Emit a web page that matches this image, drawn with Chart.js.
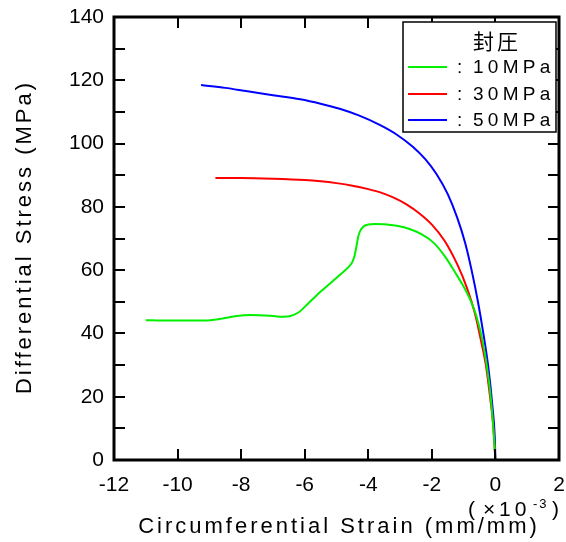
<!DOCTYPE html>
<html>
<head>
<meta charset="utf-8">
<script src="https://cdn.jsdelivr.net/npm/chart.js@4/dist/chart.umd.min.js"></script>
<style>
  html, body { margin: 0; padding: 0; background: #fff; }
  #wrap { width: 566px; height: 542px; }
</style>
</head>
<body>
<div id="wrap"><canvas id="myChart" width="566" height="542"></canvas></div>
<script>
// tick values
const xTicks = [-12, -10, -8, -6, -4, -2, 0, 2];
const yTicks = [0, 20, 40, 60, 80, 100, 120, 140];
const yMinor = [10, 30, 50, 70, 90, 110, 130];

// confining pressure 10 MPa
const strain10 = [-11.0, -10.5, -10.0, -9.5, -8.97, -8.64, -8.13, -7.72, -7.09, -6.68, -6.45, -6.2, -5.9, -5.62, -5.2, -4.78, -4.6, -4.5, -4.43, -4.37, -4.32, -4.25, -4.15, -4.0, -3.8, -3.5, -3.1, -2.7, -2.3, -1.95, -1.6, -1.22, -1.0, -0.8, -0.6, -0.4, -0.2, -0.08, 0.0];
const stress10 = [44.2, 44.1, 44.1, 44.1, 44.2, 44.6, 45.5, 45.8, 45.6, 45.3, 45.5, 46.6, 49.4, 52.1, 55.8, 59.5, 61.2, 62.6, 64.6, 67.6, 70.5, 72.5, 73.8, 74.4, 74.6, 74.5, 74.0, 73.0, 71.2, 68.7, 64.5, 58.5, 54.8, 50.8, 45.5, 37.5, 24.5, 12.0, 0];

// confining pressure 30 MPa
const strain30 = [-8.81, -8.0, -7.0, -6.0, -5.5, -5.0, -4.5, -4.0, -3.6, -3.2, -2.8, -2.4, -2.0, -1.6, -1.2, -0.9, -0.65, -0.45, -0.3, -0.17, -0.08, 0.0];
const stress30 = [89.1, 89.1, 88.9, 88.5, 88.1, 87.5, 86.7, 85.6, 84.5, 82.9, 80.8, 78.0, 74.4, 69.3, 61.8, 54.5, 46.5, 37.5, 30.0, 20.0, 12.0, 0];

// confining pressure 50 MPa
const strain50 = [-9.26, -8.5, -7.8, -7.0, -6.14, -5.5, -4.9, -4.3, -3.64, -3.1, -2.6, -2.2, -1.85, -1.5, -1.2, -0.95, -0.75, -0.55, -0.38, -0.22, -0.1, -0.02, 0.0];
const stress50 = [118.5, 117.6, 116.5, 115.3, 114.0, 112.6, 111.0, 108.9, 105.9, 102.8, 99.0, 95.0, 90.3, 84.0, 76.5, 68.5, 60.0, 50.0, 40.0, 29.0, 17.5, 7.0, 0];

const seriesLabels = ['10MPa', '30MPa', '50MPa'];
const seriesColors = ['rgb(0,240,0)', 'rgb(255,0,0)', 'rgb(0,0,255)'];

const toPoints = (xs, ys) => xs.map((v, i) => ({ x: v, y: ys[i] }));

const FONT = '"Liberation Sans", Arial, sans-serif';

// keep the plot box fixed regardless of tick label size
const noPad = s => { s.paddingTop = 0; s.paddingBottom = 0; s.paddingLeft = 0; s.paddingRight = 0; };

const framePlugin = {
  id: 'frame',
  beforeDraw(chart) {
    chart.ctx.letterSpacing = '0px';
  },
  afterDraw(chart) {
    const { ctx, chartArea: a, scales: { x, y } } = chart;
    ctx.save();
    ctx.strokeStyle = '#000';
    ctx.lineCap = 'butt';
    const seg = (x1, y1, x2, y2) => { ctx.beginPath(); ctx.moveTo(x1, y1); ctx.lineTo(x2, y2); ctx.stroke(); };

    // inward ticks on all four sides
    ctx.lineWidth = 2;
    xTicks.forEach(v => {
      const px = Math.round(x.getPixelForValue(v));
      seg(px, a.bottom, px, a.bottom - 11);
      seg(px, a.top, px, a.top + 11);
    });
    yTicks.concat(yMinor).forEach(v => {
      const py = Math.round(y.getPixelForValue(v));
      seg(a.left, py, a.left + 11, py);
      seg(a.right, py, a.right - 11, py);
    });

    // frame
    ctx.lineWidth = 3;
    ctx.strokeRect(a.left, a.top, a.right - a.left, a.bottom - a.top);

    // axis titles
    ctx.fillStyle = '#000';
    ctx.font = '22px ' + FONT;
    ctx.textAlign = 'center';
    ctx.textBaseline = 'middle';
    ctx.letterSpacing = '3px';
    ctx.fillText('Circumferential Strain (mm/mm)', 339, 527);

    ctx.save();
    ctx.translate(25, 237);
    ctx.rotate(-Math.PI / 2);
    ctx.fillText('Differential Stress (MPa)', 0, 0);
    ctx.restore();

    // scale factor note
    ctx.textAlign = 'left';
    ctx.textBaseline = 'alphabetic';
    ctx.letterSpacing = '4px';
    ctx.font = '21px ' + FONT;
    ctx.fillText('(', 468, 516);
    ctx.fillText('\u00d7', 483, 516);
    ctx.fillText('10', 499, 516);
    ctx.font = '13px ' + FONT;
    ctx.letterSpacing = '2px';
    ctx.fillText('-3', 533, 508);
    ctx.font = '21px ' + FONT;
    ctx.fillText(')', 552, 516);

    // legend box
    const lx = 403, ly = 22, lw = 153, lh = 110;
    ctx.fillStyle = '#fff';
    ctx.fillRect(lx, ly, lw, lh);
    ctx.lineWidth = 1.5;
    ctx.strokeRect(lx, ly, lw, lh);
    ctx.fillStyle = '#000';
    ctx.font = '21px "Noto Sans CJK JP", sans-serif';
    ctx.textAlign = 'center';
    ctx.textBaseline = 'middle';
    ctx.letterSpacing = '3px';
    ctx.fillText('封圧', 497, 41);

    const rows = [67, 94, 120];
    ctx.font = '19px ' + FONT;
    ctx.textAlign = 'left';
    ctx.lineWidth = 2;
    seriesLabels.forEach((lab, i) => {
      ctx.strokeStyle = seriesColors[i];
      seg(408, rows[i], 447, rows[i]);
      ctx.fillStyle = '#000';
      ctx.letterSpacing = '0px';
      ctx.fillText(':', 457, rows[i] + 1);
      ctx.letterSpacing = '4.3px';
      ctx.fillText(lab, 473, rows[i] + 1);
    });
    ctx.restore();
  }
};

const ctx = document.getElementById('myChart').getContext('2d');

const myChart = new Chart(ctx, {
  type: 'scatter',
  data: {
    datasets: seriesLabels.map((lab, i) => ({
      label: lab,
      data: toPoints([strain10, strain30, strain50][i], [stress10, stress30, stress50][i]),
      showLine: true,
      borderColor: seriesColors[i],
      backgroundColor: seriesColors[i],
      borderWidth: 2,
      pointRadius: 0,
      cubicInterpolationMode: 'monotone',
    })),
  },
  options: {
    responsive: false,
    animation: false,
    layout: { padding: { left: 0, top: 17, right: 7, bottom: 0 } },
    plugins: {
      legend: { display: false },
      tooltip: { enabled: false },
    },
    scales: {
      x: {
        type: 'linear',
        min: -12,
        max: 2,
        afterBuildTicks: s => { s.ticks = xTicks.map(v => ({ value: v })); },
        afterFit: s => { s.height = 82; noPad(s); },
        grid: { display: false, drawTicks: false },
        border: { display: false },
        ticks: { color: '#000', font: { family: FONT, size: 21 }, padding: 13, maxRotation: 0 },
      },
      y: {
        type: 'linear',
        min: 0,
        max: 140,
        afterBuildTicks: s => { s.ticks = yTicks.map(v => ({ value: v })); },
        afterFit: s => { s.width = 114; noPad(s); },
        grid: { display: false, drawTicks: false },
        border: { display: false },
        ticks: { color: '#000', font: { family: FONT, size: 21 }, padding: 10 },
      },
    },
  },
  plugins: [framePlugin],
});
</script>
</body>
</html>
